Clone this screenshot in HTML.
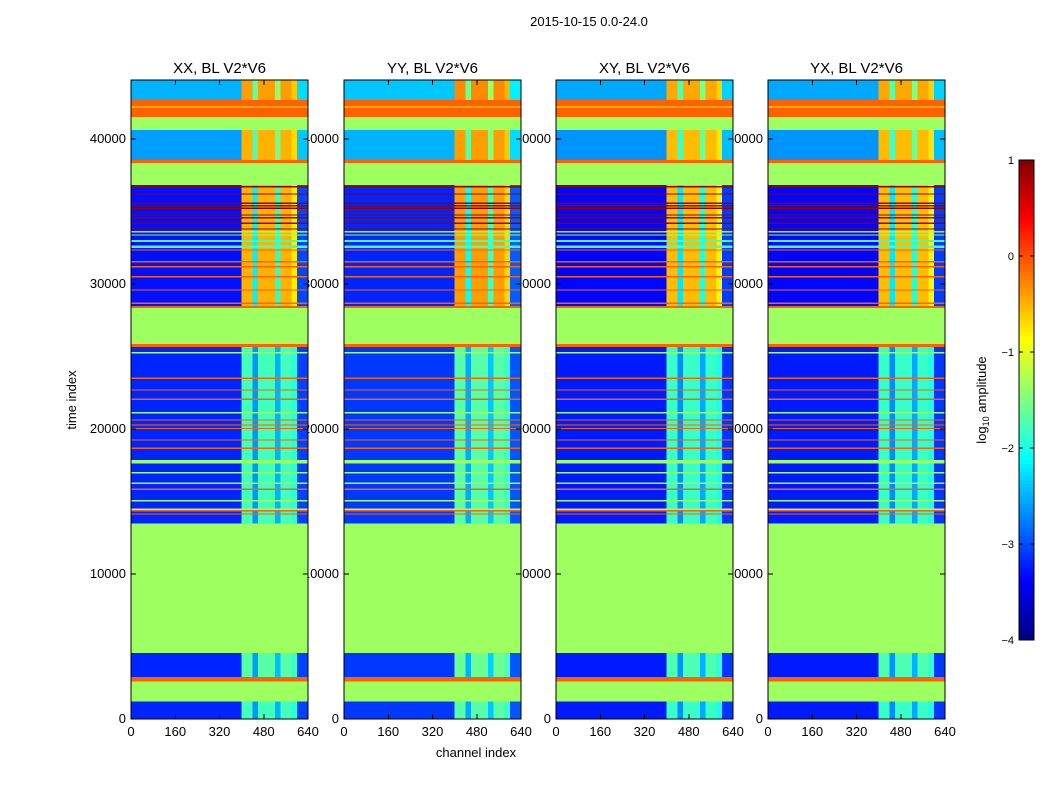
<!DOCTYPE html>
<html><head><meta charset="utf-8"><style>
body{margin:0;background:#fff;}
svg{display:block;font-family:"Liberation Sans",sans-serif;}
</style></head><body>
<svg id="fig" width="1050" height="800" xmlns="http://www.w3.org/2000/svg">
<rect width="1050" height="800" fill="#fff"/>
<text x="589" y="26" font-size="13" text-anchor="middle">2015-10-15 0.0-24.0</text>
<text x="76" y="400" font-size="13" text-anchor="middle" transform="rotate(-90 76 400)">time index</text>
<text x="476" y="757" font-size="13" text-anchor="middle">channel index</text>
<g id="labels"></g>
<g id="panels"></g>
<g id="cbar"></g>
</svg>
<script>
const panelTitles=["XX, BL V2*V6","YY, BL V2*V6","XY, BL V2*V6","YX, BL V2*V6"];
const panelOffset=[0,0.1,-0.05,-0.05];
const xTicks=[0,160,320,480,640];
const yTicks=[0,10000,20000,30000,40000];
const bandStart=[0,1190,2570,2910,4550,13500,25650,25850,28340,28500,36830,38340,38550,40620,41520,42690];
const bandEnd=[1190,2570,2910,4550,13500,25650,25850,28340,28500,36830,38340,38550,40620,41520,42690,44070];
const bandBase=[-3.2,-1.35,-0.1,-3.2,-1.35,-3.2,-0.1,-1.35,-0.1,-3.3,-1.35,-0.1,-2.6,-1.35,-0.1,-2.5];
const bandBoost=[1.4,0,0,1.5,0,1.4,0,0,0,2.8,0,0,2.1,0,0,2.1];
const rfiProfile=[1,1,0.4,1,1,1,0.5,1,1,0.9,0.1,0.1];
const lineT=[23497,22690,22048,20621,20276,20046,19241,18669,15841,14366,14138,25262,21124,17750,16986,16255,15055,14462,36710,36207,35565,35400,35218,34759,34575,34184,33793,32345,31538,31193,30503,29586,28668,33607,33379,32966,32572,42200];
const lineV=[-0.1,-0.1,-0.1,-0.1,-0.1,-0.1,-0.1,-0.1,-0.1,-0.1,-0.1,-1.35,-1.35,-1.35,-1.35,-1.35,-1.35,-1.35,0.9,0.9,0.9,0.9,0.9,0.9,0.9,0.9,0.9,-0.1,-0.1,-0.1,-0.1,-0.1,-0.1,-1.35,-1.35,-1.8,-1.8,-0.8];
const lineW=[100,100,100,100,80,80,100,100,100,80,80,100,100,230,80,80,80,80,90,90,90,90,90,90,90,90,90,100,100,100,100,100,100,90,90,150,150,80];
const cbTicks=[1,0,-1,-2,-3,-4];

const NS="http://www.w3.org/2000/svg";
const panelX=[131,344,556,768],PW=177,Y0=719,Y1=80,TMAX=44070,CH=640;
const vmin=-4,vmax=1;
function ty(t){return Y0-(t/TMAX)*(Y0-Y1);}
function cx(p,c){return panelX[p]+c/CH*PW;}
function clamp(v){return Math.max(0,Math.min(1,v));}
function jet(v){const f=clamp((v-vmin)/(vmax-vmin));
 const r=clamp(1.5-Math.abs(4*f-3)),g=clamp(1.5-Math.abs(4*f-2)),b=clamp(1.5-Math.abs(4*f-1));
 return `rgb(${Math.round(r*255)},${Math.round(g*255)},${Math.round(b*255)})`;}
function el(tag,attrs,parent){const e=document.createElementNS(NS,tag);for(const k in attrs)e.setAttribute(k,attrs[k]);parent.appendChild(e);return e;}
const labels=document.getElementById('labels'),panels=document.getElementById('panels'),cbar=document.getElementById('cbar');

for(let p=0;p<4;p++){
 for(const v of yTicks){const t=el('text',{x:panelX[p]-5,y:ty(v)+4,'font-size':13,'text-anchor':'end'},labels);t.textContent=v;
  
  }
 for(const v of xTicks){const t=el('text',{x:cx(p,v),y:Y0+17,'font-size':13,'text-anchor':'middle'},labels);t.textContent=v;
  
  }
 const tt=el('text',{x:panelX[p]+PW/2,y:73,'font-size':15,'text-anchor':'middle'},labels);tt.textContent=panelTitles[p];
 
 
}
for(let p=0;p<4;p++){
 const g=el('g',{'shape-rendering':'crispEdges'},panels);
 
 
 const off=panelOffset[p];
 for(let i=0;i<bandStart.length;i++){
  const yA=ty(bandEnd[i]),yB=ty(bandStart[i]);
  const base=bandBase[i]+(bandBoost[i]>0?off:0);
  const r=el('rect',{x:panelX[p],y:yA,width:PW,height:yB-yA,fill:jet(base)},g);
  
  
  if(bandBoost[i]>0){
   for(let c=0;c<rfiProfile.length;c++){
    const c0=400+c*20;
    const x0=cx(p,c0),x1=cx(p,Math.min(c0+20,CH));
    const cell=el('rect',{x:x0,y:yA,width:x1-x0,height:yB-yA,fill:jet(base+bandBoost[i]*rfiProfile[c])},g);
    
    
   }
  }
 }
 for(let i=0;i<lineT.length;i++){
  const yA=ty(lineT[i]+lineW[i]/2),yB=ty(lineT[i]-lineW[i]/2);
  const l=el('rect',{x:panelX[p],y:yA,width:PW,height:Math.max(1,yB-yA),fill:jet(lineV[i])},g);
  
  
 }
 const fr=el('rect',{x:panelX[p],y:Y1,width:PW,height:Y0-Y1,fill:'none',stroke:'#000','stroke-width':1},g);
 
 
 for(const v of yTicks){const y=ty(v);
  el('line',{x1:panelX[p],x2:panelX[p]+5,y1:y,y2:y,stroke:'#000'},g);
  el('line',{x1:panelX[p]+PW,x2:panelX[p]+PW-5,y1:y,y2:y,stroke:'#000'},g);}
 for(const v of xTicks){const x=cx(p,v);
  el('line',{x1:x,x2:x,y1:Y0,y2:Y0-5,stroke:'#000'},g);
  el('line',{x1:x,x2:x,y1:Y1,y2:Y1+5,stroke:'#000'},g);}
}
// colorbar
const CB={x:1019,w:15,top:160,bot:640};
const cg=el('g',{'shape-rendering':'crispEdges'},cbar);


const N=120;
for(let i=0;i<N;i++){const v=vmax-(i+0.5)/N*(vmax-vmin);const h=(CB.bot-CB.top)/N;
 el('rect',{x:CB.x,y:CB.top+i*h,width:CB.w,height:h+0.6,fill:jet(v)},cg);}
el('rect',{x:CB.x,y:CB.top,width:CB.w,height:CB.bot-CB.top,fill:'none',stroke:'#000'},cg);
for(const v of cbTicks){const y=CB.bot-(v-vmin)/(vmax-vmin)*(CB.bot-CB.top);
 el('line',{x1:CB.x,x2:CB.x+4,y1:y,y2:y,stroke:'#000'},cg);
 el('line',{x1:CB.x+CB.w,x2:CB.x+CB.w-4,y1:y,y2:y,stroke:'#000'},cg);
 const t=el('text',{x:CB.x-5,y:y+4,'font-size':11,'text-anchor':'end'},cbar);t.textContent=v<0?'\u2212'+(-v):v;
 
 }
const cl=el('text',{x:986,y:400,'font-size':13,'text-anchor':'middle',transform:'rotate(-90 986 400)'},cbar);
cl.innerHTML='log<tspan font-size="9" dy="3">10</tspan><tspan dy="-3"> amplitude</tspan>';


</script>
</body></html>
